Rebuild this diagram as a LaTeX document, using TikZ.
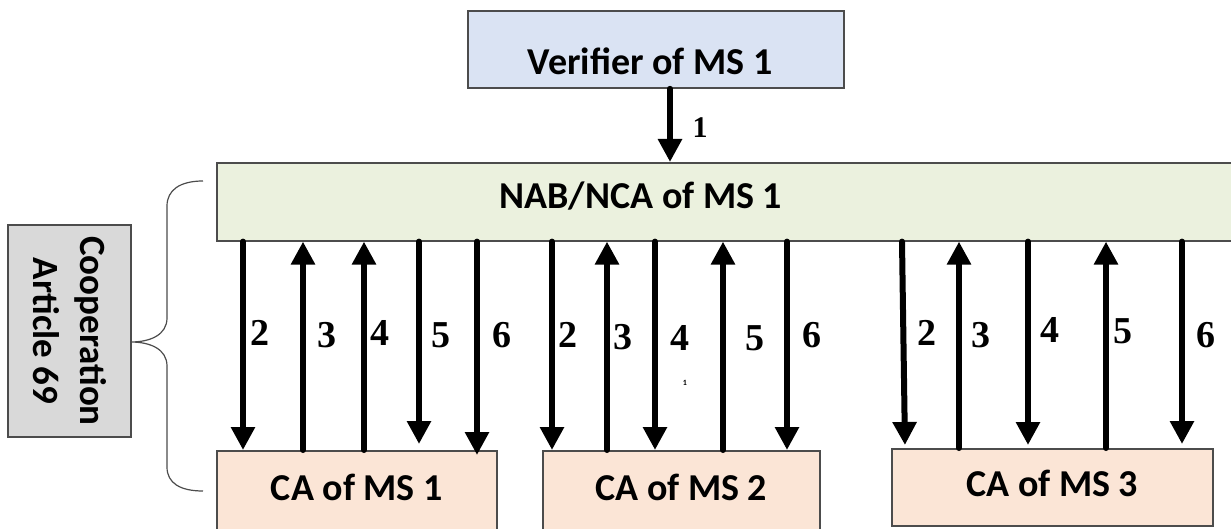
\documentclass[tikz,border=0pt]{standalone}
\usepackage{fontspec}
\setmainfont{Carlito}
\newfontfamily\numfont{Liberation Serif}
\usetikzlibrary{arrows.meta}
\definecolor{verblue}{HTML}{DAE3F3}
\definecolor{nabgreen}{HTML}{EBF1DE}
\definecolor{capeach}{HTML}{FBE5D6}
\definecolor{coopgray}{HTML}{D9D9D9}

\begin{document}
\begin{tikzpicture}[x=0.5pt,y=-0.5pt]
        \tikzset{box/.style = {shape=rectangle,draw=black!70,line width=0.8pt}};
        \tikzset{txt/.style = {font=\fontsize{19}{22}\selectfont\bfseries}};
        \tikzset{flow/.style = {-{Triangle[width=11.5pt,length=11.5pt]},line width=3pt,line cap=round}};
        \tikzset{num/.style = {font=\numfont\fontsize{19}{22}\selectfont\bfseries}};
        \useasboundingbox (0,0) rectangle (1231,529);
        % boxes
        \node[box,fill=verblue,minimum width=188pt,minimum height=38.5pt,
              label={[txt,xshift=-3pt,yshift=-6pt]center:Verifier of MS 1}] (ver) at (656,49.5) {};
        \node[box,fill=nabgreen,minimum width=512pt,minimum height=39pt,anchor=north west,
              label={[txt,xshift=-44pt,yshift=3pt]center:NAB/NCA of MS 1}] (nab) at (216,162) {};
        \node[box,fill=capeach,minimum width=140pt,minimum height=45pt,anchor=north west,
              label={[txt,yshift=4pt]center:CA of MS 1}] (ca1) at (216,450) {};
        \node[box,fill=capeach,minimum width=138.5pt,minimum height=45pt,anchor=north west,
              label={[txt,yshift=4pt]center:CA of MS 2}] (ca2) at (542,450) {};
        \node[box,fill=capeach,minimum width=160.5pt,minimum height=38.5pt,anchor=north west,
              label={[txt,yshift=2pt]center:CA of MS 3}] (ca3) at (891,448) {};
        \node[box,fill=coopgray,rotate=-90,minimum width=106pt,minimum height=61.5pt,align=center,
              font=\fontsize{18.5}{23.5}\selectfont\bfseries] (coop) at (69.5,331) {Cooperation\\Article 69};
        % brace
        \draw[draw=black!70,line width=0.6pt] (203,181) .. controls (180,181) and (167,190) .. (167,206)
            -- (167,318) .. controls (167,335) and (150,342) .. (131,342)
            .. controls (150,342) and (167,349) .. (167,366)
            -- (167,467) .. controls (167,483) and (180,491) .. (203,491);
        % verifier to NAB
        \draw[flow] (ver.south -| 670,0) -- (nab.north -| 670,0)
            node[num,font=\numfont\fontsize{15}{18}\selectfont\bfseries] at (700,128) {1};
        % CA of MS 1
        \draw[flow] (nab.south -| 243,0) -- (ca1.north -| 243,0) node[num] at (260,333) {2};
        \draw[flow] (ca1.north -| 303,0) -- (nab.south -| 303,0) node[num] at (327,335) {3};
        \draw[flow] (ca1.north -| 364,0) -- (nab.south -| 364,0) node[num] at (380,333) {4};
        \draw[flow,shorten >=3pt] (nab.south -| 419,0) -- (ca1.north -| 419,0) node[num] at (441,335) {5};
        \draw[flow,shorten >=-2.5pt] (nab.south -| 477,0) -- (ca1.north -| 477,0) node[num] at (502,335) {6};
        % CA of MS 2
        \draw[flow] (nab.south -| 552,0) -- (ca2.north -| 552,0) node[num] at (568,335) {2};
        \draw[flow] (ca2.north -| 607,0) -- (nab.south -| 607,0) node[num] at (623,337) {3};
        \draw[flow] (nab.south -| 655,0) -- (ca2.north -| 655,0) node[num] at (680,338) {4};
        \draw[flow] (ca2.north -| 723,0) -- (nab.south -| 723,0) node[num] at (755,338) {5};
        \draw[flow] (nab.south -| 787,0) -- (ca2.north -| 787,0) node[num] at (812,335) {6};
        \node[font=\fontsize{4}{5}\selectfont\bfseries] (tiny) at (685,383) {1};
        % CA of MS 3
        \draw[flow,shorten >=1.5pt] (nab.south -| 902,0) -- (ca3.north -| 905,0) node[num] at (927,333) {2};
        \draw[flow] (ca3.north -| 959,0) -- (nab.south -| 959,0) node[num] at (981,335) {3};
        \draw[flow,shorten >=1.5pt] (nab.south -| 1028,0) -- (ca3.north -| 1028,0) node[num] at (1050,330) {4};
        \draw[flow] (ca3.north -| 1106,0) -- (nab.south -| 1106,0) node[num] at (1123,331) {5};
        \draw[flow,shorten >=2pt] (nab.south -| 1182,0) -- (ca3.north -| 1182,0) node[num] at (1206,335) {6};
    \end{tikzpicture}
\end{document}
